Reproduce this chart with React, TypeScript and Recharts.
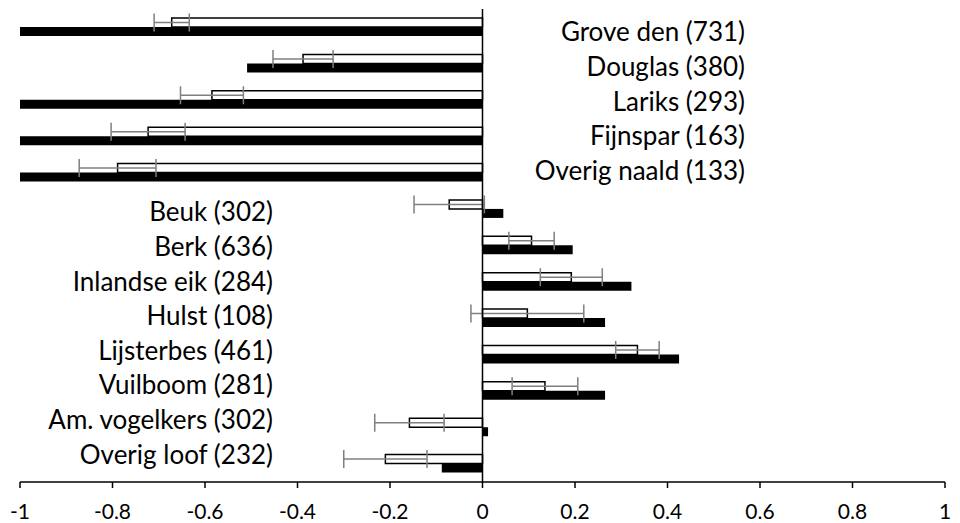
import React from "react";
import { Bar, BarChart, ErrorBar, ReferenceLine, XAxis, YAxis } from "recharts";

// species with number of plots
const species = [
  "Grove den (731)",
  "Douglas (380)",
  "Lariks (293)",
  "Fijnspar (163)",
  "Overig naald (133)",
  "Beuk (302)",
  "Berk (636)",
  "Inlandse eik (284)",
  "Hulst (108)",
  "Lijsterbes (461)",
  "Vuilboom (281)",
  "Am. vogelkers (302)",
  "Overig loof (232)",
];
const groups = ["naald", "naald", "naald", "naald", "naald", "loof", "loof", "loof", "loof", "loof", "loof", "loof", "loof"];

// open bars with error bars
const openValues = [-0.672, -0.388, -0.585, -0.723, -0.789, -0.072, 0.106, 0.192, 0.097, 0.335, 0.135, -0.158, -0.21];
const openErrors = [0.038, 0.065, 0.068, 0.08, 0.083, 0.076, 0.049, 0.067, 0.122, 0.047, 0.071, 0.075, 0.09];
// filled bars
const filledValues = [-1, -0.509, -1, -1, -1, 0.045, 0.195, 0.322, 0.265, 0.425, 0.265, 0.012, -0.088];

const xTicks = [-1, -0.8, -0.6, -0.4, -0.2, 0, 0.2, 0.4, 0.6, 0.8, 1];

const data = species.map((name, i) => ({
  name,
  open: openValues[i],
  err: openErrors[i],
  filled: filledValues[i],
}));

const FONT = "Lato, 'Open Sans', sans-serif";

// labels sit in the plot: conifers right of zero, broadleaves left of zero
const SpeciesTick = (props: any) => {
  const { y, payload } = props;
  const i = species.indexOf(payload.value);
  const naald = groups[i] === "naald";
  return (
    <text
      x={naald ? 745 : 273}
      y={Number(y) + (naald ? 0 : 7)}
      textAnchor="end"
      dominantBaseline="central"
      fontFamily={FONT}
      fontSize={26}
      fill="#000"
    >
      {payload.value}
    </text>
  );
};

const App = () => {
  return (
    <div style={{ position: "absolute", left: 0, top: 0, background: "#fff" }}>
      <BarChart
        width={960}
        height={523}
        data={data}
        layout="vertical"
        margin={{ top: 9, right: 15, bottom: 0, left: 19 }}
        barSize={9}
        barGap={0}
      >
        <XAxis
          type="number"
          domain={[-1, 1]}
          ticks={xTicks}
          interval={0}
          height={41}
          tickSize={6}
          tickMargin={16}
          axisLine={{ stroke: "#000", strokeWidth: 1.5 }}
          tickLine={{ stroke: "#000", strokeWidth: 1.5 }}
          tick={{ fontSize: 21, fill: "#000", fontFamily: FONT }}
          tickFormatter={(v) => String(v)}
        />
        <YAxis type="category" dataKey="name" hide />
        {/* separate category axis only used to place the species labels */}
        <YAxis
          yAxisId="labels"
          type="category"
          dataKey="name"
          width={1}
          axisLine={false}
          tickLine={false}
          interval={0}
          padding={{ top: 5, bottom: 18 }}
          tick={<SpeciesTick />}
        />
        <Bar dataKey="open" fill="#fff" stroke="#000" strokeWidth={1.5} isAnimationActive={false}>
          <ErrorBar dataKey="err" direction="x" width={9} stroke="#7f7f7f" strokeWidth={1.5} />
        </Bar>
        <Bar dataKey="filled" fill="#000" isAnimationActive={false} />
        <ReferenceLine x={0} stroke="#000" strokeWidth={1.5} />
      </BarChart>
    </div>
  );
};

export default App;
